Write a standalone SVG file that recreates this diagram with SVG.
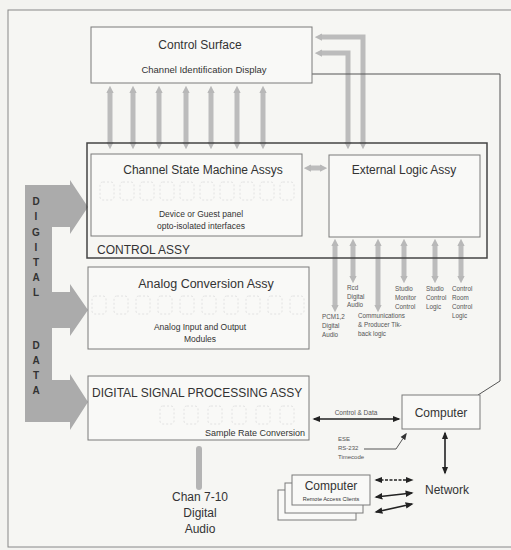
<svg xmlns="http://www.w3.org/2000/svg" width="511" height="550" viewBox="0 0 511 550">
<style>
.box{fill:#f9f9f7;stroke:#7a7a7a;stroke-width:1}
.t{font-family:"Liberation Sans",Arial,sans-serif;fill:#333}
.big{font-size:12px}
.mid{font-size:9.5px}
.tiny{font-size:6.3px;fill:#555}
.ga{stroke:#bcbcbc;stroke-width:5;fill:none}
.thin{stroke:#555;stroke-width:1;fill:none}
.blk{stroke:#222;stroke-width:1.6;fill:none}
.ghost{fill:none;stroke:#e2e2e2;stroke-width:1;stroke-dasharray:2 2}
</style>
<defs>
<marker id="gah" viewBox="0 0 10 10" refX="3" refY="5" markerWidth="7.5" markerHeight="7.5" markerUnits="userSpaceOnUse" orient="auto-start-reverse"><path d="M0,0 L10,5 L0,10 z" fill="#b8b8b8"/></marker>
<marker id="bah" viewBox="0 0 10 10" refX="8" refY="5" markerWidth="8" markerHeight="8" markerUnits="userSpaceOnUse" orient="auto-start-reverse"><path d="M0,1 L10,5 L0,9 z" fill="#222"/></marker>
<marker id="tah" viewBox="0 0 10 10" refX="8" refY="5" markerWidth="7" markerHeight="7" markerUnits="userSpaceOnUse" orient="auto-start-reverse"><path d="M0,1 L10,5 L0,9 z" fill="#333"/></marker>
</defs>
<rect x="0" y="0" width="511" height="550" fill="#f3f3f0"/>
<rect x="8" y="10" width="520" height="537" fill="#f6f6f3" stroke="#888" stroke-width="1"/>

<g id="connectors">
<line class="ga" x1="110" y1="91" x2="110" y2="144" marker-start="url(#gah)" marker-end="url(#gah)"/>
<line class="ga" x1="133" y1="91" x2="133" y2="144" marker-start="url(#gah)" marker-end="url(#gah)"/>
<line class="ga" x1="159" y1="91" x2="159" y2="144" marker-start="url(#gah)" marker-end="url(#gah)"/>
<line class="ga" x1="186" y1="91" x2="186" y2="144" marker-start="url(#gah)" marker-end="url(#gah)"/>
<line class="ga" x1="211" y1="91" x2="211" y2="144" marker-start="url(#gah)" marker-end="url(#gah)"/>
<line class="ga" x1="237" y1="91" x2="237" y2="144" marker-start="url(#gah)" marker-end="url(#gah)"/>
<line class="ga" x1="263" y1="91" x2="263" y2="144" marker-start="url(#gah)" marker-end="url(#gah)"/>
<polyline class="ga" points="348,144 348,53 320,53" marker-start="url(#gah)" marker-end="url(#gah)"/>
<polyline class="ga" points="363,144 363,37 320,37" marker-start="url(#gah)" marker-end="url(#gah)"/>
<line class="ga" x1="309" y1="168" x2="322" y2="168" marker-start="url(#gah)" marker-end="url(#gah)"/>
<line class="ga" x1="335" y1="244" x2="335" y2="307" marker-start="url(#gah)" marker-end="url(#gah)"/>
<line class="ga" x1="353" y1="244" x2="353" y2="278" marker-start="url(#gah)" marker-end="url(#gah)"/>
<line class="ga" x1="378" y1="244" x2="378" y2="307" marker-start="url(#gah)" marker-end="url(#gah)"/>
<line class="ga" x1="404" y1="244" x2="404" y2="278" marker-start="url(#gah)" marker-end="url(#gah)"/>
<line class="ga" x1="435" y1="244" x2="435" y2="278" marker-start="url(#gah)" marker-end="url(#gah)"/>
<line class="ga" x1="461" y1="244" x2="461" y2="278" marker-start="url(#gah)" marker-end="url(#gah)"/>
<line x1="199" y1="449" x2="199" y2="487" stroke="#b4b4b4" stroke-width="6" stroke-linecap="round"/>
<polyline class="thin" points="478,395 500,381 500,74 299,74" marker-end="url(#tah)"/>
<line class="blk" x1="314" y1="419" x2="399" y2="419" marker-start="url(#bah)" marker-end="url(#bah)"/>
<polyline class="thin" points="364,449 396,449 406,434" marker-end="url(#tah)"/>
<line class="blk" x1="445" y1="433" x2="445" y2="473" marker-start="url(#bah)" marker-end="url(#bah)"/>
<line class="blk" x1="376" y1="480" x2="412" y2="480" stroke-dasharray="3 1.5" marker-start="url(#bah)" marker-end="url(#bah)"/>
<line class="blk" x1="376" y1="497" x2="412" y2="493" marker-start="url(#bah)" marker-end="url(#bah)"/>
<line class="blk" x1="376" y1="512" x2="412" y2="504" marker-start="url(#bah)" marker-end="url(#bah)"/>
</g>

<g id="digital-data">
<path d="M25,185 L70,185 L70,180 L88,207 L70,234 L70,227 L52,227 L52,292 L70,292 L70,284 L88,310 L70,336 L70,328 L52,328 L52,380 L70,380 L70,374 L88,402 L70,430 L70,422 L25,422 Z" fill="#ababab"/>
<g class="t" font-size="10" font-weight="bold" text-anchor="middle" fill="#333">
<text x="36" y="205">D</text><text x="36" y="220">I</text><text x="36" y="236">G</text><text x="36" y="251">I</text><text x="36" y="266">T</text><text x="36" y="281">A</text><text x="36" y="296">L</text>
<text x="36" y="349">D</text><text x="36" y="364">A</text><text x="36" y="379">T</text><text x="36" y="394">A</text>
</g>
</g>

<g id="control-surface">
<rect class="box" x="91" y="27" width="221" height="56"/>
<text class="t big" x="200" y="49" text-anchor="middle">Control Surface</text>
<text class="t" x="204" y="73" text-anchor="middle" font-size="9.5">Channel Identification Display</text>
</g>

<g id="control-assy">
<rect x="87" y="143" width="400" height="115" fill="none" stroke="#444" stroke-width="1.5"/>
<text class="t big" x="97" y="254">CONTROL ASSY</text>
</g>

<g id="channel-state-machine">
<rect class="box" x="91" y="154" width="211" height="82"/>
<text class="t big" x="203" y="174" text-anchor="middle">Channel State Machine Assys</text>
<g class="ghost"><rect x="100" y="182" width="14" height="18" rx="3"/><rect x="120" y="182" width="14" height="18" rx="3"/><rect x="140" y="182" width="14" height="18" rx="3"/><rect x="160" y="182" width="14" height="18" rx="3"/><rect x="180" y="182" width="14" height="18" rx="3"/><rect x="200" y="182" width="14" height="18" rx="3"/><rect x="220" y="182" width="14" height="18" rx="3"/><rect x="240" y="182" width="14" height="18" rx="3"/><rect x="260" y="182" width="14" height="18" rx="3"/><rect x="280" y="182" width="14" height="18" rx="3"/></g>
<text class="t" x="201" y="217" text-anchor="middle" font-size="8.5">Device or Guest panel</text>
<text class="t" x="201" y="229" text-anchor="middle" font-size="8.5">opto-isolated interfaces</text>
</g>

<g id="external-logic">
<rect class="box" x="329" y="155" width="151" height="82"/>
<text class="t big" x="404" y="174" text-anchor="middle">External Logic Assy</text>
</g>

<g id="analog-conversion">
<rect class="box" x="88" y="267" width="221" height="82"/>
<text class="t" x="206" y="288" text-anchor="middle" font-size="12.5">Analog Conversion Assy</text>
<g class="ghost"><rect x="92" y="296" width="14" height="18" rx="3"/><rect x="114" y="296" width="14" height="18" rx="3"/><rect x="136" y="296" width="14" height="18" rx="3"/><rect x="158" y="296" width="14" height="18" rx="3"/><rect x="180" y="296" width="14" height="18" rx="3"/><rect x="202" y="296" width="14" height="18" rx="3"/><rect x="224" y="296" width="14" height="18" rx="3"/><rect x="246" y="296" width="14" height="18" rx="3"/><rect x="268" y="296" width="14" height="18" rx="3"/><rect x="290" y="296" width="14" height="18" rx="3"/></g>
<text class="t" x="200" y="330" text-anchor="middle" font-size="8.5">Analog Input and Output</text>
<text class="t" x="200" y="342" text-anchor="middle" font-size="8.5">Modules</text>
</g>

<g id="dsp">
<rect class="box" x="88" y="376" width="221" height="64"/>
<text class="t big" x="92" y="397">DIGITAL SIGNAL PROCESSING ASSY</text>
<g class="ghost"><rect x="160" y="406" width="14" height="18" rx="3"/><rect x="184" y="406" width="14" height="18" rx="3"/><rect x="208" y="406" width="14" height="18" rx="3"/><rect x="232" y="406" width="14" height="18" rx="3"/><rect x="256" y="406" width="14" height="18" rx="3"/><rect x="280" y="406" width="14" height="18" rx="3"/></g>
<text class="t" x="305" y="436" text-anchor="end" font-size="9">Sample Rate Conversion</text>
</g>

<g id="chan-7-10">
<text class="t big" x="200" y="501" text-anchor="middle">Chan 7-10</text>
<text class="t big" x="200" y="517" text-anchor="middle">Digital</text>
<text class="t big" x="200" y="533" text-anchor="middle">Audio</text>
</g>

<g id="logic-labels" class="t tiny">
<text x="322" y="319">PCM1,2</text><text x="322" y="328">Digital</text><text x="322" y="337">Audio</text>
<text x="347" y="290">Rcd</text><text x="347" y="299">Digital</text><text x="347" y="307">Audio</text>
<text x="358" y="318">Communications</text><text x="358" y="327">&amp; Producer Tlk-</text><text x="358" y="336">back logic</text>
<text x="395" y="291">Studio</text><text x="395" y="300">Monitor</text><text x="395" y="309">Control</text>
<text x="426" y="291">Studio</text><text x="426" y="300">Control</text><text x="426" y="309">Logic</text>
<text x="452" y="291">Control</text><text x="452" y="300">Room</text><text x="452" y="309">Control</text><text x="452" y="318">Logic</text>
</g>

<g id="computer">
<rect class="box" x="402" y="395" width="78" height="34"/>
<text class="t big" x="441" y="417" text-anchor="middle">Computer</text>
</g>

<g id="link-labels" class="t">
<text x="356" y="415" text-anchor="middle" font-size="6.5" fill="#555">Control &amp; Data</text>
<text x="338" y="441" font-size="6" fill="#555">ESE</text>
<text x="338" y="450" font-size="6" fill="#555">RS-232</text>
<text x="338" y="459" font-size="6" fill="#555">Timecode</text>
</g>

<g id="network">
<text class="t big" x="447" y="494" text-anchor="middle">Network</text>
</g>

<g id="remote-clients">
<rect class="box" x="278" y="490" width="78" height="30"/>
<rect class="box" x="285" y="483" width="78" height="30"/>
<rect class="box" x="292" y="475" width="78" height="30"/>
<text class="t big" x="331" y="490" text-anchor="middle">Computer</text>
<text class="t" x="331" y="501" text-anchor="middle" font-size="5.5" fill="#555">Remote Access Clients</text>
</g>
</svg>
